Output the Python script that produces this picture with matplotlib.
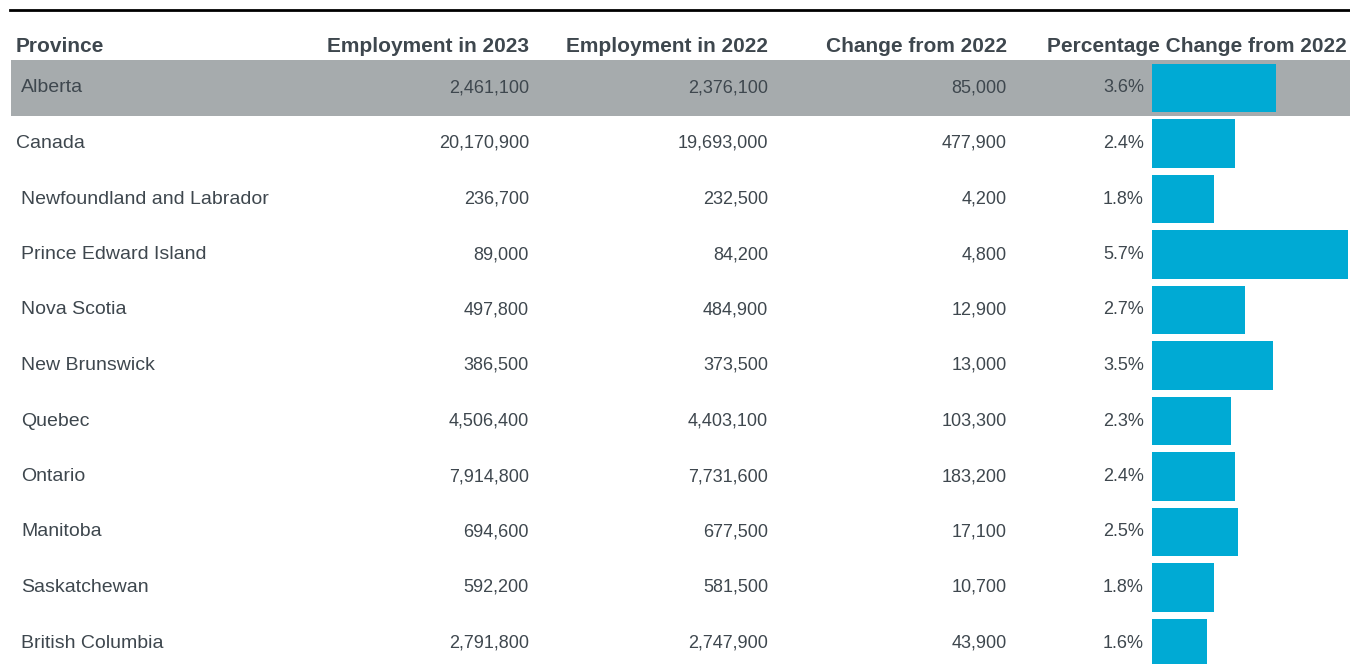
import matplotlib
matplotlib.use("Agg")
import matplotlib.pyplot as plt

provinces = ["Alberta", "Canada", "Newfoundland and Labrador", "Prince Edward Island",
             "Nova Scotia", "New Brunswick", "Quebec", "Ontario", "Manitoba",
             "Saskatchewan", "British Columbia"]
emp_2023 = [2461100, 20170900, 236700, 89000, 497800, 386500, 4506400, 7914800,
            694600, 592200, 2791800]
emp_2022 = [2376100, 19693000, 232500, 84200, 484900, 373500, 4403100, 7731600,
            677500, 581500, 2747900]
change = [85000, 477900, 4200, 4800, 12900, 13000, 103300, 183200, 17100, 10700, 43900]
pct_change = [3.6, 2.4, 1.8, 5.7, 2.7, 3.5, 2.3, 2.4, 2.5, 1.8, 1.6]
headers = ["Province", "Employment in 2023", "Employment in 2022",
           "Change from 2022", "Percentage Change from 2022"]

plt.rcParams['font.family'] = ['Liberation Sans', 'DejaVu Sans']
txt = '#3e474e'
band = '#a6abad'
bar_col = '#00aad4'

W, H = 1350, 664
fig = plt.figure(figsize=(W / 100, H / 100), dpi=100)
ax = fig.add_axes([0, 0, 1, 1])
row_px, first_px = 55.5, 88
ylim = ((H - first_px) / row_px, -first_px / row_px)
ax.set_xlim(0, W)
ax.set_ylim(*ylim)
ax.axis('off')

# top rule and header
ax.axhline(-(first_px - 10) / row_px, xmin=10 / W, xmax=1, color='black', lw=2)
hy = -(first_px - 46) / row_px
hdr_x = [16, 529, 768, 1007, 1347]
for i, h in enumerate(headers):
    ax.text(hdr_x[i], hy, h, ha='left' if i == 0 else 'right', va='center',
            fontsize=15, fontweight='bold', color=txt)

# highlighted row
ax.axhspan(-0.505, 0.505, xmin=11 / W, xmax=1, color=band, lw=0, zorder=0)

for i, p in enumerate(provinces):
    indent = 16 if i == 1 else 21
    ax.text(indent, i, p, ha='left', va='center', fontsize=14, color=txt)
    ax.text(529, i, f"{emp_2023[i]:,}", ha='right', va='center', fontsize=13, color=txt)
    ax.text(768, i, f"{emp_2022[i]:,}", ha='right', va='center', fontsize=13, color=txt)
    ax.text(1007, i, f"{change[i]:,}", ha='right', va='center', fontsize=13, color=txt)
    ax.text(1144, i, f"{pct_change[i]:.1f}%", ha='right', va='center', fontsize=13, color=txt)

# bars column
bx = fig.add_axes([1152 / W, 0, (W - 1152) / W, 1])
bx.patch.set_alpha(0)
bx.barh(range(len(provinces)), pct_change, height=0.865, color=bar_col, lw=0)
bx.set_xlim(0, 5.75)
bx.set_ylim(*ylim)
bx.axis('off')

fig.savefig("out.png", dpi=100)
